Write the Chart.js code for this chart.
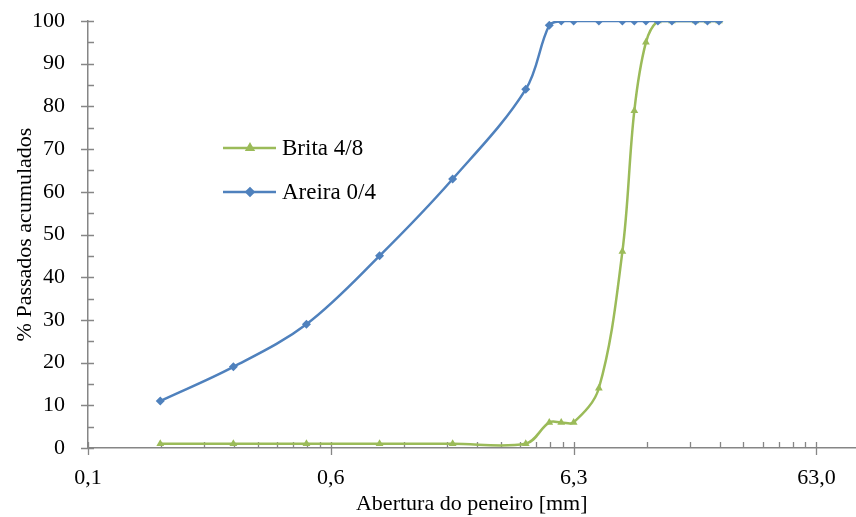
<!DOCTYPE html>
<html>
<head>
<meta charset="utf-8">
<script src="https://cdn.jsdelivr.net/npm/chart.js@4/dist/chart.umd.min.js"></script>
<style>
  html, body { margin: 0; padding: 0; background: #fff; overflow: hidden; }
  /* a linha do eixo x vai até à borda direita da imagem */
  #wrap { width: 860px; height: 517px; }
</style>
</head>
<body>
<div id="wrap"><canvas id="grading"></canvas></div>
<script>
// aberturas dos peneiros [mm]
const sieveSizes = [0.125, 0.25, 0.5, 1, 2, 4, 5, 5.6, 6.3, 8, 10, 11.2, 12.5, 14, 16, 20, 22.4, 25];
// % passados acumulados
const brita48 = [1, 1, 1, 1, 1, 1, 6, 6, 6, 14, 46, 79, 95, 100, 100, 100, 100, 100];
const areia04 = [11, 19, 29, 45, 63, 84, 99, 100, 100, 100, 100, 100, 100, 100, 100, 100, 100, 100];

// eixo x (log) - divisões principais e os rótulos como aparecem
const xTickValues = [0.063, 0.63, 6.3, 63];
const xTickLabels = ['0,1', '0,6', '6,3', '63,0'];
const xMin = 0.063, xMax = 91.2;

const GREEN = '#9BBB59';
const BLUE = '#4F81BD';
const AXIS = '#868686';
const FONT = '"Liberation Serif", "Times New Roman", serif';

const toPoints = (ys) => sieveSizes.map((x, i) => ({ x: x, y: ys[i] }));

// marcas dos eixos: principais cruzam o eixo, secundárias só para dentro
const tickMarks = {
  id: 'tickMarks',
  beforeDatasetsDraw(chart) {
    const ctx = chart.ctx;
    const xs = chart.scales.x, ys = chart.scales.y;
    ctx.save();
    ctx.strokeStyle = AXIS;
    ctx.lineWidth = 1.3;
    ctx.beginPath();
    xs.ticks.forEach(t => {
      const px = Math.round(xs.getPixelForValue(t.value)) + 0.5;
      const y0 = ys.bottom;
      ctx.moveTo(px, y0 - 6);
      ctx.lineTo(px, t.major ? y0 + 7 : y0);
    });
    ys.ticks.forEach(t => {
      const py = Math.round(ys.getPixelForValue(t.value)) + 0.5;
      const x0 = xs.left;
      ctx.moveTo(t.value % 10 === 0 ? x0 - 7 : x0, py);
      ctx.lineTo(x0 + 6, py);
    });
    ctx.stroke();
    ctx.restore();
  }
};

// legenda dentro da área do gráfico
const innerLegend = {
  id: 'innerLegend',
  afterDraw(chart) {
    const ctx = chart.ctx;
    const items = [chart.data.datasets[1], chart.data.datasets[0]];
    ctx.save();
    items.forEach((ds, i) => {
      const y = 148 + i * 44;
      ctx.strokeStyle = ds.borderColor;
      ctx.lineWidth = 2.5;
      ctx.beginPath();
      ctx.moveTo(223, y);
      ctx.lineTo(276, y);
      ctx.stroke();
      Chart.helpers.drawPoint(ctx, {
        pointStyle: ds.pointStyle, radius: 3.5, rotation: 0, borderWidth: 1
      }, 250, y);
      ctx.fillStyle = ds.borderColor;
      ctx.fill();
      ctx.fillStyle = '#000';
      ctx.font = '23px ' + FONT;
      ctx.textBaseline = 'middle';
      ctx.fillText(ds.label, 282, y + 1);
    });
    ctx.restore();
  }
};

new Chart(document.getElementById('grading').getContext('2d'), {
  type: 'line',
  data: {
    datasets: [
      {
        label: 'Areira 0/4',
        data: toPoints(areia04),
        borderColor: BLUE,
        backgroundColor: BLUE,
        borderWidth: 2.5,
        pointStyle: 'rectRot',
        pointRadius: 4.5,
        pointBorderWidth: 0,
        tension: 0.35,
        order: 0,
      },
      {
        label: 'Brita 4/8',
        data: toPoints(brita48),
        borderColor: GREEN,
        backgroundColor: GREEN,
        borderWidth: 2.5,
        pointStyle: 'triangle',
        pointRadius: 4.5,
        pointBorderWidth: 0,
        tension: 0.35,
        order: 1,
      },
    ],
  },
  options: {
    responsive: true,
    maintainAspectRatio: false,
    animation: false,
    layout: { padding: { top: 21, right: 0, left: 0, bottom: 0 } },
    plugins: {
      legend: { display: false },
      tooltip: { enabled: false },
    },
    scales: {
      x: {
        type: 'logarithmic',
        min: xMin,
        max: xMax,
        afterBuildTicks: (scale) => {
          const ticks = [];
          xTickValues.forEach((base) => {
            ticks.push({ value: base, major: true });
            for (let k = 2; k <= 9; k++) {
              const v = base * k;
              if (v <= xMax) ticks.push({ value: v, major: false });
            }
          });
          scale.ticks = ticks;
        },
        afterFit: (scale) => {
          scale.height = 69;
          scale.paddingLeft = 0;
          scale.paddingRight = 0;
        },
        grid: { display: false },
        border: { display: true, color: AXIS, width: 1.5 },
        ticks: {
          autoSkip: false,
          maxRotation: 0,
          padding: 9,
          color: '#000',
          font: { family: FONT, size: 22 },
          callback: function (value) {
            const i = xTickValues.findIndex(v => Math.abs(v - value) < 1e-9);
            return i >= 0 ? xTickLabels[i] : '';
          },
        },
        title: {
          display: true,
          text: 'Abertura do peneiro [mm]',
          color: '#000',
          font: { family: FONT, size: 22 },
          padding: { top: 0, bottom: 0 },
        },
      },
      y: {
        min: 0,
        max: 100,
        afterFit: (scale) => {
          scale.width = 88;
          scale.paddingTop = 0;
          scale.paddingBottom = 0;
        },
        grid: { display: false },
        border: { display: true, color: AXIS, width: 1.5 },
        ticks: {
          stepSize: 5,
          autoSkip: false,
          padding: 15,
          color: '#000',
          font: { family: FONT, size: 22 },
          callback: (v) => (v % 10 === 0 ? String(v) : ''),
        },
        title: {
          display: true,
          text: '% Passados acumulados',
          color: '#000',
          font: { family: FONT, size: 22 },
          padding: { top: 12, bottom: 0 },
        },
      },
    },
  },
  plugins: [tickMarks, innerLegend],
});
</script>
</body>
</html>
